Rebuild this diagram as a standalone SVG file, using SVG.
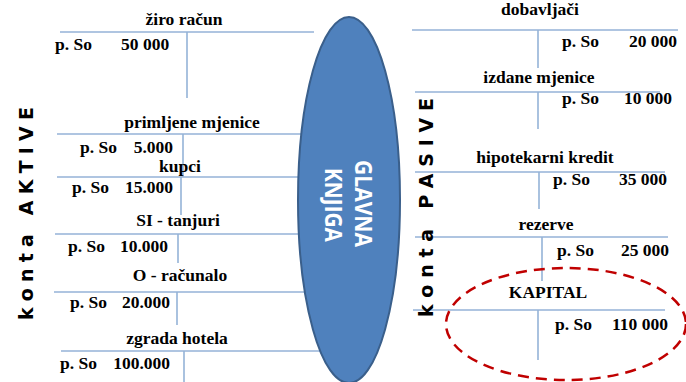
<svg xmlns="http://www.w3.org/2000/svg" width="686" height="382" viewBox="0 0 686 382">
<style>
.ln{stroke:#95B3D7;stroke-width:1.6;fill:none}
.t{font-family:"Liberation Serif","Times New Roman",serif;font-weight:bold;font-size:17.5px;fill:#000}
.c{text-anchor:middle}
.e{text-anchor:end}
.side{font-family:"DejaVu Sans",sans-serif;font-weight:bold;font-size:19px;fill:#000;white-space:pre}
.gk{font-family:"Open Sans","Liberation Sans",sans-serif;font-weight:bold;font-size:23px;fill:#fff}
</style>
<rect width="686" height="382" fill="#fff"/>
<g id="connectors">
<path class="ln" d="M60 32H314M187 32V98"/>
<path class="ln" d="M57 134H320M183 134V177"/>
<path class="ln" d="M57 177H320M181 177V215"/>
<path class="ln" d="M55 234H320M178 234V263"/>
<path class="ln" d="M54 292H320M177 292V325"/>
<path class="ln" d="M61 351H320M184 351V382"/>
<path class="ln" d="M412 30H678M538 30V68"/>
<path class="ln" d="M415 92H660M538 92V129"/>
<path class="ln" d="M415 172H665M539 172V209"/>
<path class="ln" d="M415 237H668M542 237V281"/>
<path class="ln" d="M413 310H665M538 310V360"/>
</g>
<g id="ziro-racun">
<text class="t c" x="184" y="25">žiro račun</text>
<text class="t" x="55" y="50">p. So</text>
<text class="t" x="121" y="50">50 000</text>
</g>
<g id="primljene-mjenice">
<text class="t c" x="192" y="128">primljene mjenice</text>
<text class="t" x="80" y="153">p. So</text>
<text class="t e" x="173" y="153">5.000</text>
</g>
<g id="kupci">
<text class="t c" x="180" y="172">kupci</text>
<text class="t" x="72" y="193">p. So</text>
<text class="t e" x="173" y="193">15.000</text>
</g>
<g id="si-tanjuri">
<text class="t c" x="178" y="226">SI - tanjuri</text>
<text class="t" x="68" y="252">p. So</text>
<text class="t e" x="168" y="252">10.000</text>
</g>
<g id="o-racunalo">
<text class="t c" x="180" y="281">O - računalo</text>
<text class="t" x="70" y="308">p. So</text>
<text class="t e" x="170" y="308">20.000</text>
</g>
<g id="zgrada-hotela">
<text class="t c" x="177" y="344">zgrada hotela</text>
<text class="t" x="60" y="369">p. So</text>
<text class="t e" x="170" y="369">100.000</text>
</g>
<g id="konta-aktive">
<text class="side" transform="translate(33,320) rotate(-90)" textLength="213" lengthAdjust="spacing" xml:space="preserve">k o n t a   A K T I V E</text>
</g>
<g id="glavna-knjiga">
<ellipse cx="349" cy="200" rx="51" ry="183" fill="#4F81BD" stroke="#3A5F8B" stroke-width="2"/>
<text class="gk" transform="translate(355,160) rotate(90)" textLength="87" lengthAdjust="spacingAndGlyphs">GLAVNA</text>
<text class="gk" transform="translate(325,168) rotate(90)" textLength="74" lengthAdjust="spacingAndGlyphs">KNJIGA</text>
</g>
<g id="konta-pasive">
<text class="side" transform="translate(433,317) rotate(-90)" textLength="219" lengthAdjust="spacing" xml:space="preserve">k o n t a   P A S I V E</text>
</g>
<g id="dobavljaci">
<text class="t c" x="540" y="15">dobavljači</text>
<text class="t" x="562" y="47">p. So</text>
<text class="t e" x="677" y="47">20 000</text>
</g>
<g id="izdane-mjenice">
<text class="t c" x="539" y="83">izdane mjenice</text>
<text class="t" x="562" y="104">p. So</text>
<text class="t e" x="672" y="104">10 000</text>
</g>
<g id="hipotekarni-kredit">
<text class="t c" x="545" y="163">hipotekarni kredit</text>
<text class="t" x="553" y="185">p. So</text>
<text class="t e" x="667" y="185">35 000</text>
</g>
<g id="rezerve">
<text class="t c" x="546" y="230">rezerve</text>
<text class="t" x="557" y="256">p. So</text>
<text class="t e" x="669" y="256">25 000</text>
</g>
<g id="kapital">
<text class="t c" x="548" y="298">KAPITAL</text>
<text class="t" x="555" y="330">p. So</text>
<text class="t e" x="668" y="330">110 000</text>
</g>
<g id="highlight">
<ellipse cx="566" cy="324" rx="120" ry="56" fill="none" stroke="#C00000" stroke-width="2.5" stroke-dasharray="11 7"/>
</g>
</svg>
